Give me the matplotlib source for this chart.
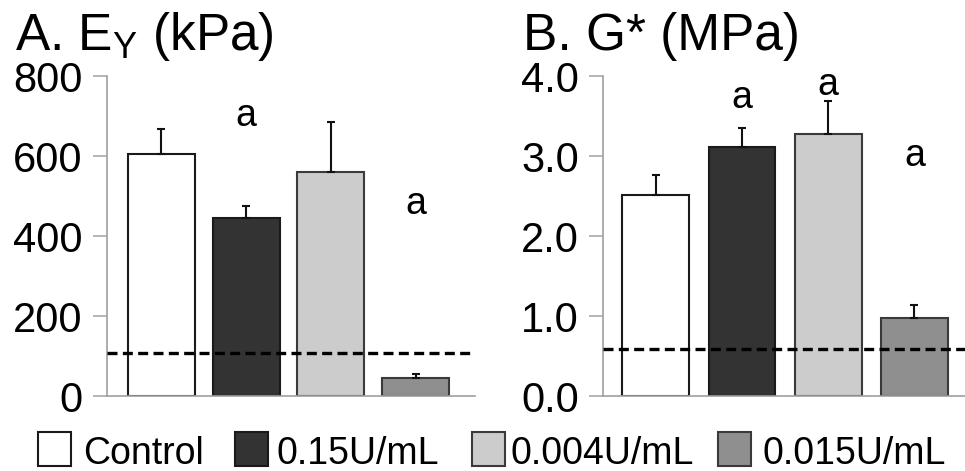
import matplotlib
matplotlib.use("Agg")
import matplotlib.pyplot as plt
import numpy as np
from matplotlib.patches import Rectangle

plt.rcParams['font.family'] = ['Liberation Sans', 'DejaVu Sans']
plt.rcParams['mathtext.default'] = 'regular'

categories = ['Control', '0.15U/mL', '0.004U/mL', '0.015U/mL']
ey_mean = [604, 446, 561, 46]
ey_err = [63, 28, 123, 10]
ey_threshold = 108
ey_sig = ['', 'a', '', 'a']
ey_sig_y = [0, 711, 0, 489]

g_mean = [2.515, 3.11, 3.27, 0.97]
g_err = [0.245, 0.245, 0.42, 0.17]
g_threshold = 0.59
g_sig = ['', 'a', 'a', 'a']
g_sig_y = [0, 3.77, 3.94, 3.05]

ey_ticks = [0, 200, 400, 600, 800]
ey_ticklabels = ['0', '200', '400', '600', '800']
g_ticks = [0, 1, 2, 3, 4]
g_ticklabels = ['0.0', '1.0', '2.0', '3.0', '4.0']

fills = ['#ffffff', '#333333', '#cccccc', '#8f8f8f']
edges = ['#1a1a1a', '#1a1a1a', '#3a3a3a', '#3a3a3a']

W, H = 965, 471
fig = plt.figure(figsize=(W / 100, H / 100), dpi=100)

axA = fig.add_axes([107 / W, 1 - 396 / H, 368 / W, 320 / H])
axB = fig.add_axes([603 / W, 1 - 396 / H, 362 / W, 320 / H])

def draw(ax, means, errs, thr, sig, sig_y, ticks, ticklabels, ylim, width, xlim):
    x = np.arange(len(means))
    ax.bar(x, means, width=width, color=fills, edgecolor=edges, linewidth=1.5, zorder=2)
    ax.errorbar(x, means, yerr=[np.zeros(len(errs)), errs], fmt='none', ecolor='#111111',
                elinewidth=1.5, capsize=2.6, capthick=1.5, zorder=3)
    ax.axhline(thr, color='black', lw=2.4, linestyle=(0, (3, 1.6)), zorder=4)
    for xi, s, yy in zip(x, sig, sig_y):
        if s:
            ax.text(xi, yy, s, ha='center', va='center_baseline', fontsize=27)
    ax.set_ylim(*ylim)
    ax.set_xlim(*xlim)
    ax.set_yticks(ticks)
    ax.set_yticklabels(ticklabels, fontsize=30)
    ax.set_xticks([])
    for s in ['top', 'right']:
        ax.spines[s].set_visible(False)
    for s in ['left', 'bottom']:
        ax.spines[s].set_color('#a0a0a0')
        ax.spines[s].set_linewidth(1.2)
    ax.tick_params(axis='y', direction='out', length=10, width=1.1, color='#a0a0a0', pad=7.5)
    ax.patch.set_visible(False)

draw(axA, ey_mean, ey_err, ey_threshold, ey_sig, ey_sig_y, ey_ticks, ey_ticklabels,
     (0, 800), 0.79, (-0.643, 3.70))
draw(axB, g_mean, g_err, g_threshold, g_sig, g_sig_y, g_ticks, g_ticklabels,
     (0, 4), 0.776, (-0.612, 3.586))

fig.text(15 / W, 1 - 50 / H, 'A. E$_{Y}$ (kPa)', fontsize=37, ha='left', va='baseline')
fig.text(523 / W, 1 - 50 / H, 'B. G* (MPa)', fontsize=37, ha='left', va='baseline')

# legend
sq_x = [38, 235, 472, 718]
txt_x = [83, 277, 510, 763]
for i, lab in enumerate(categories):
    fig.add_artist(Rectangle((sq_x[i] / W, 1 - 466 / H), 33 / W, 34 / H,
                             transform=fig.transFigure, facecolor=fills[i],
                             edgecolor=edges[i], linewidth=1.5))
    fig.text(txt_x[i] / W, 1 - 450 / H, lab, fontsize=27, ha='left', va='center_baseline')

fig.savefig('out.png', dpi=100)
